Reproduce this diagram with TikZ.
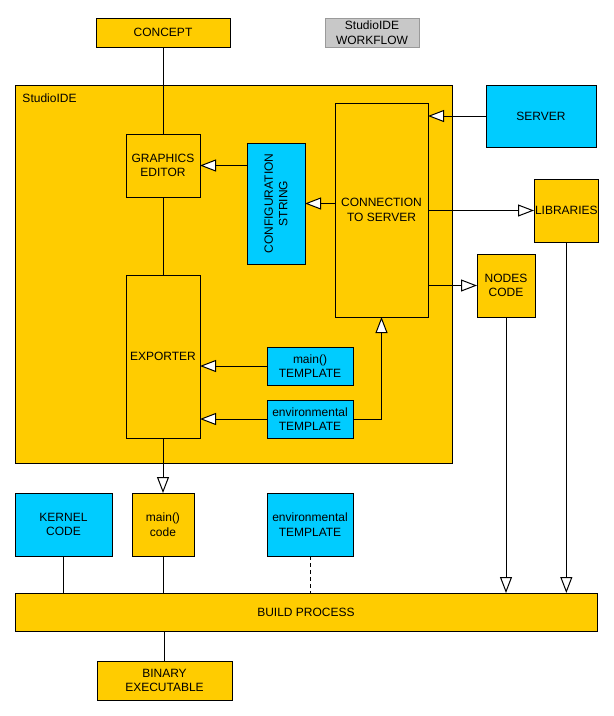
\documentclass[tikz,border=0pt]{standalone}
\usepackage{fontspec}
\setmainfont{Liberation Sans}
\usetikzlibrary{positioning,arrows.meta}

\definecolor{ideyellow}{HTML}{FFCC00}
\definecolor{ideblue}{HTML}{00CCFF}
\definecolor{wfgray}{HTML}{C8C8C8}
\definecolor{wfedge}{HTML}{9A9A9A}

\tikzset{
    blk/.style={draw, line width=1pt, inner sep=1pt, outer sep=0pt, align=center, anchor=north west, font=\fontsize{12}{14.7}\selectfont},
    yblk/.style={blk, fill=ideyellow},
    bblk/.style={blk, fill=ideblue},
}

\begin{document}
\begin{tikzpicture}[x=1pt,y=-1pt,>={Triangle[fill=white,length=16pt,width=12pt]},line width=1pt]
    \useasboundingbox (0,0) rectangle (614,716);
    % title
    \node[yblk, minimum width=134pt, minimum height=29pt] (concept) at (96,18) {CONCEPT};
    \node[blk, fill=wfgray, draw=wfedge, minimum width=94pt, minimum height=29pt] (wflow) at (325,18) {StudioIDE\\WORKFLOW};
    
    % StudioIDE
    \node[yblk, minimum width=437pt, minimum height=378pt] (ide) at (15,85) {};
    \node[anchor=base west, inner sep=0pt, font=\fontsize{12}{14.7}\selectfont] (idename) at ([shift={(7pt,-17pt)}]ide.north west) {StudioIDE};
    \node[yblk, minimum width=74pt, minimum height=63pt] (gedit) at (126,134) {GRAPHICS\\EDITOR};
    \node[bblk, minimum width=58pt, minimum height=121pt] (confstr) at (247,143) {};
    \node[rotate=90, align=center, font=\fontsize{12}{14.7}\selectfont] (confname) at (confstr.center) {CONFIGURATION\\STRING};
    \node[yblk, minimum width=93pt, minimum height=214pt] (conn) at (335,103) {CONNECTION\\TO SERVER};
    \node[yblk, minimum width=74pt, minimum height=163pt] (exporter) at (126,275) {EXPORTER};
    \node[bblk, minimum width=86pt, minimum height=38pt] (maintpl) at (267,347) {main()\\TEMPLATE};
    \node[bblk, minimum width=86pt, minimum height=38pt, below=15pt of maintpl] (envtpl) {environmental\\TEMPLATE};
    
    % outside
    \node[bblk, minimum width=110pt, minimum height=62pt] (server) at (486,85) {SERVER};
    \node[yblk, minimum width=62pt, minimum height=63pt] (libs) at (534,179) {LIBRARIES};
    \node[yblk, minimum width=58pt, minimum height=63pt] (nodes) at (477,254) {NODES\\CODE};
    \node[bblk, minimum width=97pt, minimum height=63pt] (kernel) at (15,493) {KERNEL\\CODE};
    \node[yblk, minimum width=62pt, minimum height=63pt] (maincode) at (132,493) {main()\\code};
    \node[bblk, minimum width=86pt, minimum height=63pt] (envtplb) at (267,493) {environmental\\TEMPLATE};
    \node[yblk, minimum width=582pt, minimum height=38pt] (build) at (15,593) {BUILD PROCESS};
    \node[yblk, minimum width=135pt, minimum height=39pt] (binary) at (97,661) {BINARY\\EXECUTABLE};
    
    \draw (concept.south) -- (gedit.north);
    \draw (gedit.south) -- (exporter.north);
    \draw[->] (server.west) -- (server.west -| conn.east);
    \draw[->] (gedit.east -| confstr.west) -- (gedit.east);
    \draw[->] (confstr.east -| conn.west) -- (confstr.east);
    \draw[->] (conn.east |- libs.west) -- (libs.west);
    \draw[->] (conn.east |- nodes.west) -- (nodes.west);
    \draw[->] (maintpl.west) -- (maintpl.west -| exporter.east);
    \draw[->] (envtpl.west) -- (envtpl.west -| exporter.east);
    \draw[->] (envtpl.east) -| (conn.south);
    \draw[->] (exporter.south) -- (exporter.south |- maincode.north);
    
    % into BUILD PROCESS
    \draw (kernel.south) -- (kernel.south |- build.north);
    \draw (maincode.south) -- (maincode.south |- build.north);
    \draw[dash pattern=on 4pt off 3pt] (envtplb.south) -- (envtplb.south |- build.north);
    \draw[->] (nodes.south) -- (nodes.south |- build.north);
    \draw[->] (libs.south) -- (libs.south |- build.north);
    \draw (build.south -| binary.north) -- (binary.north);
\end{tikzpicture}
\end{document}
